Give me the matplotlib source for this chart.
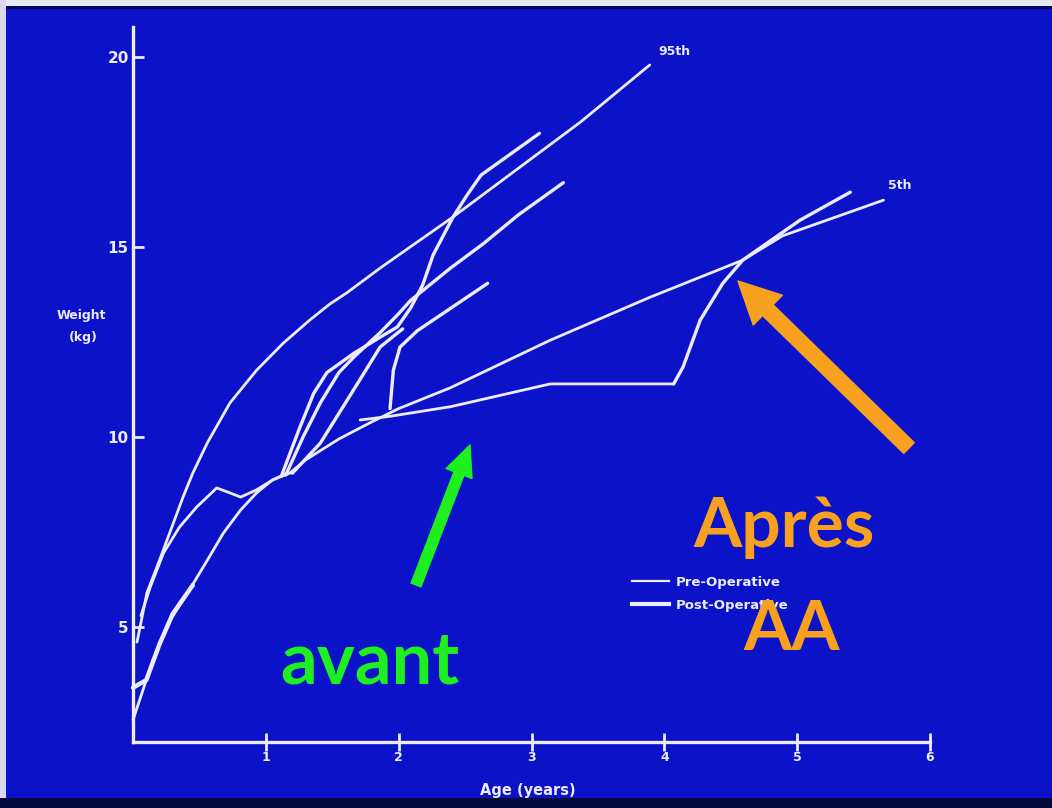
import matplotlib
matplotlib.use("Agg")
import matplotlib.pyplot as plt
from matplotlib.lines import Line2D
from matplotlib.patches import Rectangle

# ---------------- data (age in years, weight in kg) ----------------
age_p95 = [0.03, 0.105, 0.20, 0.30, 0.38, 0.45, 0.56, 0.73, 0.93, 1.13, 1.33, 1.48, 1.61,
           1.86, 2.41, 3.37, 3.89]
wt_p95 = [4.6, 5.9, 6.76, 7.7, 8.45, 9.05, 9.85, 10.9, 11.76, 12.47, 13.08, 13.5, 13.8,
          14.45, 15.8, 18.3, 19.8]

age_p5 = [0.00, 0.15, 0.28, 0.41, 0.56, 0.68, 0.81, 0.93, 1.05, 1.18, 1.30, 1.55, 1.78,
          2.00, 2.39, 3.14, 3.89, 4.59, 4.89, 5.65]
wt_p5 = [2.55, 4.13, 5.18, 5.89, 6.76, 7.47, 8.08, 8.53, 8.87, 9.05, 9.4, 9.95, 10.37,
         10.75, 11.3, 12.55, 13.68, 14.66, 15.3, 16.24]

# pre-operative curves
age_pre_bump = [0.06, 0.13, 0.23, 0.35, 0.48, 0.63, 0.73, 0.81, 0.93, 1.05, 1.16]
wt_pre_bump = [5.3, 6.05, 6.95, 7.63, 8.16, 8.66, 8.53, 8.42, 8.61, 8.87, 9.05]

age_pre_aa = [1.71, 1.94, 2.39, 3.14, 4.07]
wt_pre_aa = [10.45, 10.55, 10.8, 11.4, 11.4]

# post-operative curves
age_post_inf = [0.00, 0.10, 0.20, 0.30, 0.45]
wt_post_inf = [3.4, 3.6, 4.55, 5.35, 6.1]

age_post_a = [1.12, 1.25, 1.36, 1.46, 1.66, 1.86, 1.99, 2.09, 2.18, 2.26, 2.41, 2.52, 2.62,
              2.72, 3.06]
wt_post_a = [9.0, 10.2, 11.15, 11.7, 12.2, 12.63, 12.9, 13.4, 14.0, 14.8, 15.8, 16.4, 16.9,
             17.15, 18.0]

age_post_b = [1.15, 1.28, 1.41, 1.55, 1.66, 1.86, 2.00, 2.09, 2.39, 2.64, 2.90, 3.24]
wt_post_b = [9.0, 10.0, 10.9, 11.7, 12.1, 12.75, 13.25, 13.6, 14.45, 15.1, 15.85, 16.7]

age_post_c = [1.20, 1.41, 1.66, 1.86, 1.99, 2.03]
wt_post_c = [9.05, 9.84, 11.24, 12.37, 12.74, 12.85]

age_post_d = [1.935, 1.96, 2.01, 2.14, 2.67]
wt_post_d = [10.75, 11.76, 12.37, 12.8, 14.05]

age_post_aa = [4.07, 4.14, 4.27, 4.44, 4.59, 4.77, 5.02, 5.40]
wt_post_aa = [11.4, 11.84, 13.08, 14.05, 14.66, 15.1, 15.71, 16.45]

x_ticks = [1, 2, 3, 4, 5, 6]
y_ticks = [5, 10, 15, 20]

# ---------------- styling ----------------
BG = "#0b12c8"
LC = "#ecebff"
GREEN = "#1fee1f"
ORANGE = "#f7a11f"

W, H = 1052, 808
fig = plt.figure(figsize=(W / 100, H / 100), dpi=100, facecolor=BG)

# photo-like frame strips
fig.patches.append(Rectangle((0, 1 - 6 / H), 1, 6 / H, transform=fig.transFigure,
                             facecolor="#e8e8f0", edgecolor="none", zorder=0))
fig.patches.append(Rectangle((0, 1 - 9 / H), 1, 3 / H, transform=fig.transFigure,
                             facecolor="#06085a", edgecolor="none", zorder=0))
fig.patches.append(Rectangle((0, 0), 6 / W, 1, transform=fig.transFigure,
                             facecolor="#d8d8ee", edgecolor="none", zorder=0))
fig.patches.append(Rectangle((0, 0), 1, 10 / H, transform=fig.transFigure,
                             facecolor="#07093a", edgecolor="none", zorder=0))

ax = fig.add_axes([133 / W, 66 / H, (930 - 133) / W, (781 - 66) / H])
ax.set_facecolor("none")
ax.set_xlim(0, 6)
ax.set_ylim(1.97, 20.8)

for s in ("top", "right"):
    ax.spines[s].set_visible(False)
for s in ("left", "bottom"):
    ax.spines[s].set_color(LC)
    ax.spines[s].set_linewidth(2.4)

ax.set_xticks(x_ticks)
ax.set_yticks(y_ticks)
ax.tick_params(axis="x", direction="inout", length=13, width=2, colors=LC,
               labelsize=9, pad=0)
ax.tick_params(axis="y", direction="in", length=8, width=2, colors=LC,
               labelsize=11, pad=3)
for lab in ax.get_xticklabels() + ax.get_yticklabels():
    lab.set_fontweight("bold")
    lab.set_color(LC)

lw_pre = 2.0
lw_post = 2.4
kw = dict(color=LC, solid_capstyle="round", solid_joinstyle="round", clip_on=False)

ax.plot(age_p95, wt_p95, lw=lw_pre, **kw)
ax.plot(age_p5, wt_p5, lw=lw_pre, **kw)
ax.plot(age_pre_bump, wt_pre_bump, lw=lw_pre, **kw)
ax.plot(age_pre_aa, wt_pre_aa, lw=lw_pre, **kw)
ax.plot(age_post_inf, wt_post_inf, lw=lw_post + 0.8, **kw)
ax.plot(age_post_a, wt_post_a, lw=lw_post, **kw)
ax.plot(age_post_b, wt_post_b, lw=lw_post, **kw)
ax.plot(age_post_c, wt_post_c, lw=lw_post, **kw)
ax.plot(age_post_d, wt_post_d, lw=lw_post, **kw)
ax.plot(age_post_aa, wt_post_aa, lw=lw_post, **kw)

# percentile labels
ax.annotate("95th", xy=(age_p95[-1], wt_p95[-1]), xytext=(6, 5), textcoords="offset points",
            color=LC, fontsize=9, fontweight="bold", ha="left", va="bottom")
ax.annotate("5th", xy=(age_p5[-1], wt_p5[-1]), xytext=(3, 6), textcoords="offset points",
            color=LC, fontsize=9, fontweight="bold", ha="left", va="bottom")

# axis titles
fig.text(81 / W, 1 - 315 / H, "Weight", color=LC, fontsize=9, fontweight="bold",
         ha="center", va="center")
fig.text(83 / W, 1 - 338 / H, "(kg)", color=LC, fontsize=9, fontweight="bold",
         ha="center", va="center")
fig.text(528 / W, 1 - 790 / H, "Age (years)", color=LC, fontsize=10.5, fontweight="bold",
         ha="center", va="center")

# legend
handles = [Line2D([], [], color=LC, lw=1.6), Line2D([], [], color=LC, lw=3.0)]
leg = ax.legend(handles, ["Pre-Operative", "Post-Operative"], loc="upper left",
                bbox_to_anchor=(632 / W, 1 - 576 / H), bbox_transform=fig.transFigure,
                frameon=False, fontsize=9.5, handlelength=2.8, handletextpad=0.55,
                labelspacing=0.75, borderpad=0, borderaxespad=0)
for t in leg.get_texts():
    t.set_color(LC)
    t.set_fontweight("bold")

# annotations (slide overlay)
fig.text(280 / W, 1 - 683 / H, "avant", color=GREEN, fontsize=52, fontweight="bold",
         family="Lato", ha="left", va="baseline", zorder=5)
fig.text(693 / W, 1 - 547 / H, "Après", color=ORANGE, fontsize=50, fontweight="bold",
         family="Lato", ha="left", va="baseline", zorder=5)
fig.text(792 / W, 1 - 650 / H, "AA", color=ORANGE, fontsize=50, fontweight="bold",
         family="Lato", ha="center", va="baseline", zorder=5)

ax.annotate("", xy=(470, H - 445), xytext=(416, H - 585),
            xycoords="figure pixels", textcoords="figure pixels",
            arrowprops=dict(arrowstyle="simple,head_length=1.1,head_width=1.0,tail_width=0.38",
                            color=GREEN, mutation_scale=20, shrinkA=0, shrinkB=0))
ax.annotate("", xy=(738, H - 281), xytext=(909, H - 448),
            xycoords="figure pixels", textcoords="figure pixels",
            arrowprops=dict(arrowstyle="simple,head_length=1.25,head_width=1.25,tail_width=0.45",
                            color=ORANGE, mutation_scale=24, shrinkA=0, shrinkB=0))

fig.savefig("out.png", dpi=100, facecolor=BG)
